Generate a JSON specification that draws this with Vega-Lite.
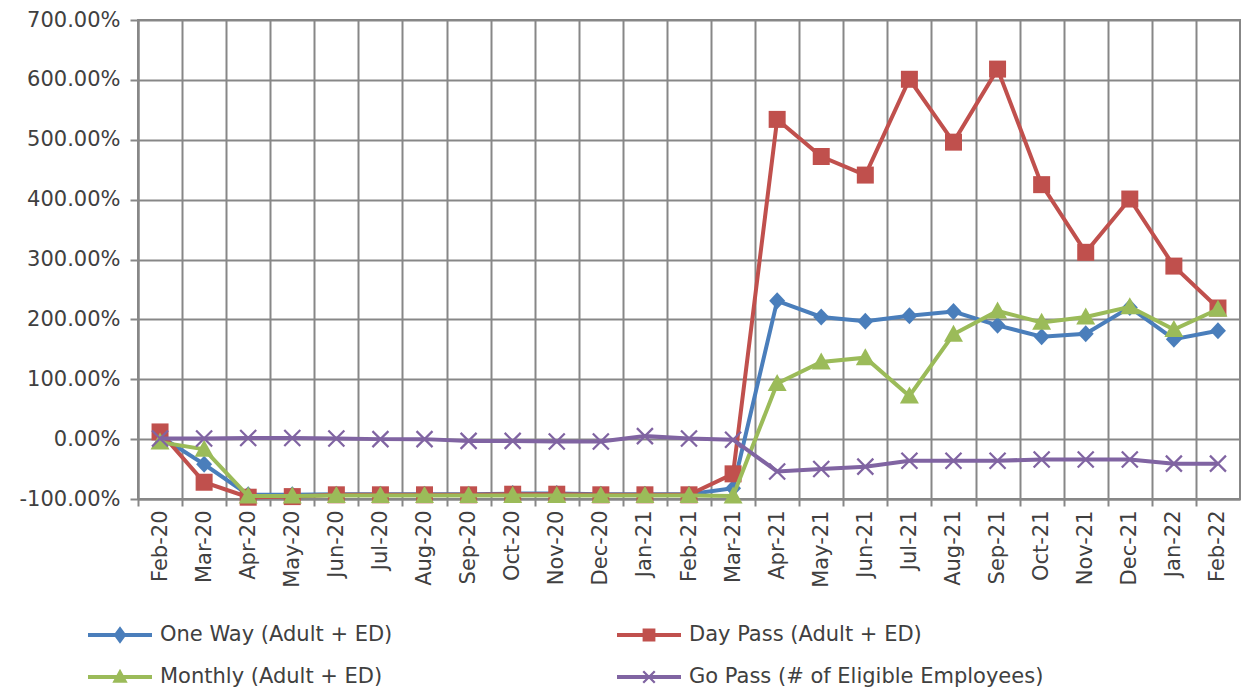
{
  "$schema": "https://vega.github.io/schema/vega-lite/v6.json",
  "width": 1102,
  "height": 479,
  "autosize": {"type": "none"},
  "padding": {"left": 138, "top": 20, "right": 1, "bottom": 197},
  "config": {
    "locale": {"number": {"decimal": ".", "thousands": ",", "grouping": [3], "currency": ["$", ""], "minus": "-"}},
    "view": {"stroke": "#878787", "strokeWidth": 2},
    "font": "DejaVu Sans",
    "axis": {
      "gridColor": "#878787", "gridWidth": 2, "gridOpacity": 1,
      "domainColor": "#878787", "domainWidth": 2,
      "tickColor": "#878787", "tickWidth": 2, "tickSize": 8,
      "labelFont": "DejaVu Sans", "labelFontSize": 21, "labelColor": "#404040",
      "title": null
    },
    "legend": {
      "orient": "none", "legendX": -50, "legendY": 583, "columns": 2,
      "columnPadding": 224, "rowPadding": -22, "padding": 0,
      "labelFont": "DejaVu Sans", "labelFontSize": 21, "labelColor": "#404040", "labelLimit": 600,
      "labelOffset": 8, "symbolSize": 4096, "symbolStrokeWidth": 0, "title": null
    }
  },
  "data": {"values": [
    {"month": "Feb-20", "series": "One Way (Adult + ED)", "value": 5},
    {"month": "Mar-20", "series": "One Way (Adult + ED)", "value": -42},
    {"month": "Apr-20", "series": "One Way (Adult + ED)", "value": -93},
    {"month": "May-20", "series": "One Way (Adult + ED)", "value": -93},
    {"month": "Jun-20", "series": "One Way (Adult + ED)", "value": -92},
    {"month": "Jul-20", "series": "One Way (Adult + ED)", "value": -92},
    {"month": "Aug-20", "series": "One Way (Adult + ED)", "value": -92},
    {"month": "Sep-20", "series": "One Way (Adult + ED)", "value": -92},
    {"month": "Oct-20", "series": "One Way (Adult + ED)", "value": -91},
    {"month": "Nov-20", "series": "One Way (Adult + ED)", "value": -91},
    {"month": "Dec-20", "series": "One Way (Adult + ED)", "value": -92},
    {"month": "Jan-21", "series": "One Way (Adult + ED)", "value": -92},
    {"month": "Feb-21", "series": "One Way (Adult + ED)", "value": -92},
    {"month": "Mar-21", "series": "One Way (Adult + ED)", "value": -82},
    {"month": "Apr-21", "series": "One Way (Adult + ED)", "value": 231},
    {"month": "May-21", "series": "One Way (Adult + ED)", "value": 204},
    {"month": "Jun-21", "series": "One Way (Adult + ED)", "value": 197},
    {"month": "Jul-21", "series": "One Way (Adult + ED)", "value": 206},
    {"month": "Aug-21", "series": "One Way (Adult + ED)", "value": 213},
    {"month": "Sep-21", "series": "One Way (Adult + ED)", "value": 190},
    {"month": "Oct-21", "series": "One Way (Adult + ED)", "value": 171},
    {"month": "Nov-21", "series": "One Way (Adult + ED)", "value": 176},
    {"month": "Dec-21", "series": "One Way (Adult + ED)", "value": 220},
    {"month": "Jan-22", "series": "One Way (Adult + ED)", "value": 167},
    {"month": "Feb-22", "series": "One Way (Adult + ED)", "value": 181},
    {"month": "Feb-20", "series": "Day Pass (Adult + ED)", "value": 12},
    {"month": "Mar-20", "series": "Day Pass (Adult + ED)", "value": -72},
    {"month": "Apr-20", "series": "Day Pass (Adult + ED)", "value": -97},
    {"month": "May-20", "series": "Day Pass (Adult + ED)", "value": -96},
    {"month": "Jun-20", "series": "Day Pass (Adult + ED)", "value": -93},
    {"month": "Jul-20", "series": "Day Pass (Adult + ED)", "value": -93},
    {"month": "Aug-20", "series": "Day Pass (Adult + ED)", "value": -93},
    {"month": "Sep-20", "series": "Day Pass (Adult + ED)", "value": -93},
    {"month": "Oct-20", "series": "Day Pass (Adult + ED)", "value": -92},
    {"month": "Nov-20", "series": "Day Pass (Adult + ED)", "value": -92},
    {"month": "Dec-20", "series": "Day Pass (Adult + ED)", "value": -93},
    {"month": "Jan-21", "series": "Day Pass (Adult + ED)", "value": -93},
    {"month": "Feb-21", "series": "Day Pass (Adult + ED)", "value": -93},
    {"month": "Mar-21", "series": "Day Pass (Adult + ED)", "value": -58},
    {"month": "Apr-21", "series": "Day Pass (Adult + ED)", "value": 534},
    {"month": "May-21", "series": "Day Pass (Adult + ED)", "value": 472},
    {"month": "Jun-21", "series": "Day Pass (Adult + ED)", "value": 441},
    {"month": "Jul-21", "series": "Day Pass (Adult + ED)", "value": 601},
    {"month": "Aug-21", "series": "Day Pass (Adult + ED)", "value": 496},
    {"month": "Sep-21", "series": "Day Pass (Adult + ED)", "value": 618},
    {"month": "Oct-21", "series": "Day Pass (Adult + ED)", "value": 425},
    {"month": "Nov-21", "series": "Day Pass (Adult + ED)", "value": 312},
    {"month": "Dec-21", "series": "Day Pass (Adult + ED)", "value": 401},
    {"month": "Jan-22", "series": "Day Pass (Adult + ED)", "value": 289},
    {"month": "Feb-22", "series": "Day Pass (Adult + ED)", "value": 219},
    {"month": "Feb-20", "series": "Monthly (Adult + ED)", "value": -5},
    {"month": "Mar-20", "series": "Monthly (Adult + ED)", "value": -17},
    {"month": "Apr-20", "series": "Monthly (Adult + ED)", "value": -95},
    {"month": "May-20", "series": "Monthly (Adult + ED)", "value": -95},
    {"month": "Jun-20", "series": "Monthly (Adult + ED)", "value": -94},
    {"month": "Jul-20", "series": "Monthly (Adult + ED)", "value": -94},
    {"month": "Aug-20", "series": "Monthly (Adult + ED)", "value": -94},
    {"month": "Sep-20", "series": "Monthly (Adult + ED)", "value": -94},
    {"month": "Oct-20", "series": "Monthly (Adult + ED)", "value": -94},
    {"month": "Nov-20", "series": "Monthly (Adult + ED)", "value": -94},
    {"month": "Dec-20", "series": "Monthly (Adult + ED)", "value": -94},
    {"month": "Jan-21", "series": "Monthly (Adult + ED)", "value": -94},
    {"month": "Feb-21", "series": "Monthly (Adult + ED)", "value": -94},
    {"month": "Mar-21", "series": "Monthly (Adult + ED)", "value": -95},
    {"month": "Apr-21", "series": "Monthly (Adult + ED)", "value": 93},
    {"month": "May-21", "series": "Monthly (Adult + ED)", "value": 129},
    {"month": "Jun-21", "series": "Monthly (Adult + ED)", "value": 136},
    {"month": "Jul-21", "series": "Monthly (Adult + ED)", "value": 72},
    {"month": "Aug-21", "series": "Monthly (Adult + ED)", "value": 175},
    {"month": "Sep-21", "series": "Monthly (Adult + ED)", "value": 214},
    {"month": "Oct-21", "series": "Monthly (Adult + ED)", "value": 195},
    {"month": "Nov-21", "series": "Monthly (Adult + ED)", "value": 204},
    {"month": "Dec-21", "series": "Monthly (Adult + ED)", "value": 221},
    {"month": "Jan-22", "series": "Monthly (Adult + ED)", "value": 183},
    {"month": "Feb-22", "series": "Monthly (Adult + ED)", "value": 217},
    {"month": "Feb-20", "series": "Go Pass (# of Eligible Employees)", "value": 1},
    {"month": "Mar-20", "series": "Go Pass (# of Eligible Employees)", "value": 1},
    {"month": "Apr-20", "series": "Go Pass (# of Eligible Employees)", "value": 2},
    {"month": "May-20", "series": "Go Pass (# of Eligible Employees)", "value": 2},
    {"month": "Jun-20", "series": "Go Pass (# of Eligible Employees)", "value": 1},
    {"month": "Jul-20", "series": "Go Pass (# of Eligible Employees)", "value": 0},
    {"month": "Aug-20", "series": "Go Pass (# of Eligible Employees)", "value": 0},
    {"month": "Sep-20", "series": "Go Pass (# of Eligible Employees)", "value": -3},
    {"month": "Oct-20", "series": "Go Pass (# of Eligible Employees)", "value": -3},
    {"month": "Nov-20", "series": "Go Pass (# of Eligible Employees)", "value": -4},
    {"month": "Dec-20", "series": "Go Pass (# of Eligible Employees)", "value": -4},
    {"month": "Jan-21", "series": "Go Pass (# of Eligible Employees)", "value": 5},
    {"month": "Feb-21", "series": "Go Pass (# of Eligible Employees)", "value": 1},
    {"month": "Mar-21", "series": "Go Pass (# of Eligible Employees)", "value": -1},
    {"month": "Apr-21", "series": "Go Pass (# of Eligible Employees)", "value": -54},
    {"month": "May-21", "series": "Go Pass (# of Eligible Employees)", "value": -50},
    {"month": "Jun-21", "series": "Go Pass (# of Eligible Employees)", "value": -46},
    {"month": "Jul-21", "series": "Go Pass (# of Eligible Employees)", "value": -36},
    {"month": "Aug-21", "series": "Go Pass (# of Eligible Employees)", "value": -36},
    {"month": "Sep-21", "series": "Go Pass (# of Eligible Employees)", "value": -36},
    {"month": "Oct-21", "series": "Go Pass (# of Eligible Employees)", "value": -34},
    {"month": "Nov-21", "series": "Go Pass (# of Eligible Employees)", "value": -34},
    {"month": "Dec-21", "series": "Go Pass (# of Eligible Employees)", "value": -34},
    {"month": "Jan-22", "series": "Go Pass (# of Eligible Employees)", "value": -41},
    {"month": "Feb-22", "series": "Go Pass (# of Eligible Employees)", "value": -41}
  ]},
  "encoding": {
    "x": {
      "field": "month", "type": "ordinal",
      "scale": {"type": "point", "padding": 0.5, "domain": ["Feb-20","Mar-20","Apr-20","May-20","Jun-20","Jul-20","Aug-20","Sep-20","Oct-20","Nov-20","Dec-20","Jan-21","Feb-21","Mar-21","Apr-21","May-21","Jun-21","Jul-21","Aug-21","Sep-21","Oct-21","Nov-21","Dec-21","Jan-22","Feb-22"]},
      "axis": {"grid": true, "tickOffset": -22.04, "labelOffset": 22.04, "labelAngle": -90, "labelAlign": "right", "labelBaseline": "middle", "labelPadding": 4, "tickSize": 7}
    },
    "y": {
      "field": "value", "type": "quantitative",
      "scale": {"domain": [-100, 700], "nice": false, "zero": false},
      "axis": {"values": [-100, 0, 100, 200, 300, 400, 500, 600, 700], "labelExpr": "format(datum.value, '.2f') + '%'", "labelPadding": 10}
    },
    "color": {
      "field": "series", "type": "nominal",
      "scale": {"domain": ["One Way (Adult + ED)", "Monthly (Adult + ED)", "Day Pass (Adult + ED)", "Go Pass (# of Eligible Employees)"], "range": ["#4A7EBB", "#9BBB59", "#C0504D", "#8064A2"]}
    }
  },
  "layer": [
    {
      "transform": [{"filter": {"field": "series", "equal": "One Way (Adult + ED)"}}],
      "mark": {"type": "line", "strokeWidth": 4, "point": {"filled": true, "size": 400, "opacity": 1, "strokeWidth": 0, "shape": "M0,-0.85L0.8,0L0,0.85L-0.8,0Z"}}
    },
    {
      "transform": [{"filter": {"field": "series", "equal": "Day Pass (Adult + ED)"}}],
      "mark": {"type": "line", "strokeWidth": 4, "point": {"filled": true, "size": 400, "opacity": 1, "strokeWidth": 0, "shape": "M-0.85,-0.85H0.85V0.85H-0.85Z"}}
    },
    {
      "transform": [{"filter": {"field": "series", "equal": "Monthly (Adult + ED)"}}],
      "mark": {"type": "line", "strokeWidth": 4, "point": {"filled": true, "size": 400, "opacity": 1, "strokeWidth": 0, "shape": "M0,-0.95L0.95,0.75L-0.95,0.75Z"}}
    },
    {
      "transform": [{"filter": {"field": "series", "equal": "Go Pass (# of Eligible Employees)"}}],
      "mark": {"type": "line", "strokeWidth": 4, "point": {"filled": true, "size": 400, "opacity": 1, "strokeWidth": 0, "shape": "M-0.72,-0.88L0.88,0.72L0.72,0.88L-0.88,-0.72ZM0.88,-0.72L-0.72,0.88L-0.88,0.72L0.72,-0.88Z"}}
    },
    {
      "transform": [{"filter": "false"}],
      "mark": {"type": "point", "filled": true, "opacity": 1},
      "encoding": {
        "shape": {
          "field": "series", "type": "nominal",
          "scale": {"domain": ["One Way (Adult + ED)", "Monthly (Adult + ED)", "Day Pass (Adult + ED)", "Go Pass (# of Eligible Employees)"],
                    "range": [
                      "M-1,-0.06H1V0.06H-1ZM0,-0.27L0.2,0L0,0.27L-0.2,0Z",
                      "M-1,-0.06H1V0.06H-1ZM0,-0.26L0.24,0.18L-0.24,0.18Z",
                      "M-1,-0.06H1V0.06H-1ZM-0.2,-0.2H0.2V0.2H-0.2Z",
                      "M-1,-0.06H1V0.06H-1ZM-0.155,-0.205L0.205,0.155L0.155,0.205L-0.205,-0.155ZM0.205,-0.155L-0.155,0.205L-0.205,0.155L0.155,-0.205Z"
                    ]}
        }
      }
    }
  ]
}
